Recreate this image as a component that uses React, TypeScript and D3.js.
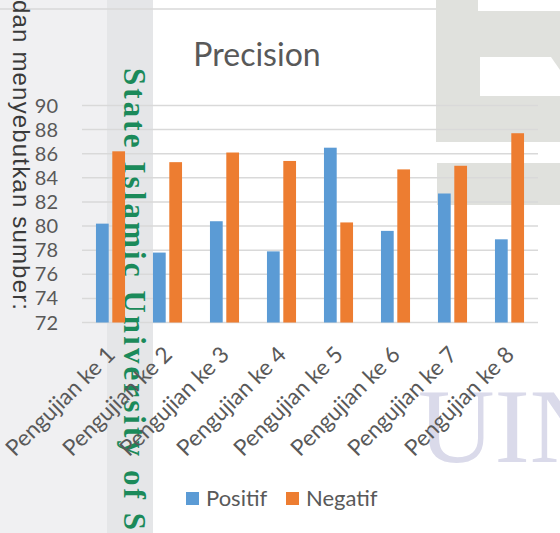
import React from "react";
import * as d3 from "d3";

const categories = [
  "Pengujian ke 1",
  "Pengujian ke 2",
  "Pengujian ke 3",
  "Pengujian ke 4",
  "Pengujian ke 5",
  "Pengujian ke 6",
  "Pengujian ke 7",
  "Pengujian ke 8",
];
const seriesNames = ["Positif", "Negatif"];
const positif = [80.2, 77.8, 80.4, 77.9, 86.5, 79.6, 82.7, 78.9];
const negatif = [86.2, 85.3, 86.1, 85.4, 80.3, 84.7, 85.0, 87.7];
const yTicks = [72, 74, 76, 78, 80, 82, 84, 86, 88, 90];
const colors = ["#5b9bd5", "#ed7d31"];

const W = 560;
const H = 533;
const font = "Lato, 'Open Sans', sans-serif";

export default function App() {
  const x0 = d3
    .scaleBand()
    .domain(categories)
    .range([82, 538])
    .paddingInner(0.49)
    .paddingOuter(0.245);
  const x1 = d3
    .scaleBand()
    .domain(seriesNames)
    .range([0, x0.bandwidth()])
    .paddingInner(0.22);
  const y = d3.scaleLinear().domain([72, 90]).range([322.5, 105.5]);

  const rows = categories.map((c, i) => ({
    cat: c,
    vals: [positif[i], negatif[i]],
  }));

  return (
    <svg
      width={W}
      height={H}
      style={{ position: "absolute", left: 0, top: 0, background: "#fff" }}
    >
      {/* scan background / watermark */}
      <rect x={0} y={0} width={107} height={H} fill="#f0f0f2" />
      <rect x={107} y={0} width={46} height={H} fill="#e5e6e8" />
      <rect x={436} y={0} width={124} height={142} fill="#e0e1dd" />
      <rect x={478} y={0} width={82} height={11} fill="#fff" />
      <polygon points="480,57 551,57 560,70 560,96 480,96" fill="#fff" />
      <rect x={437} y={163} width={123} height={42} fill="#e0e1dd" />
      <line x1={0} x2={436} y1={9} y2={9} stroke="#d9d9d9" strokeWidth={1.5} />
      <text
        x={418}
        y={462}
        fontFamily="'Liberation Serif', serif"
        fontSize={106}
        fill="#dadaea"
      >
        UIN
      </text>
      <text
        transform="translate(13,0) rotate(90)"
        fontFamily="'Liberation Sans', sans-serif"
        fontSize={24}
        fill="#3a3a3a"
        textLength={310}
        lengthAdjust="spacing"
      >
        dan menyebutkan sumber:
      </text>

      {/* gridlines */}
      {yTicks.map((t) => (
        <line
          key={t}
          x1={82}
          x2={538}
          y1={y(t)}
          y2={y(t)}
          stroke="#d9d9d9"
          strokeWidth={1.5}
        />
      ))}

      {/* green vertical watermark */}
      <text
        transform="translate(124,68) rotate(90)"
        fontFamily="'Liberation Serif', serif"
        fontWeight="bold"
        fontSize={31}
        fill="#1b8a5a"
        textLength={462}
        lengthAdjust="spacing"
      >
        State Islamic University of S
      </text>

      {/* bars */}
      {rows.map((r) => (
        <g key={r.cat} transform={`translate(${x0(r.cat)},0)`}>
          {r.vals.map((v, j) => (
            <rect
              key={j}
              x={x1(seriesNames[j])}
              y={y(v)}
              width={x1.bandwidth()}
              height={y(72) - y(v)}
              fill={colors[j]}
            />
          ))}
        </g>
      ))}

      {/* y axis labels */}
      {yTicks.map((t) => (
        <text
          key={t}
          x={58}
          y={y(t)}
          dy="0.35em"
          textAnchor="end"
          fontFamily={font}
          fontSize={20}
          fill="#595959"
        >
          {t}
        </text>
      ))}

      {/* x axis labels */}
      {categories.map((c) => (
        <text
          key={c}
          transform={`translate(${(x0(c) ?? 0) + x0.bandwidth() / 2 + 6},356) rotate(-45)`}
          textAnchor="end"
          fontFamily={font}
          fontSize={22.5}
          fill="#595959"
        >
          {c}
        </text>
      ))}

      {/* title */}
      <text
        x={257}
        y={66}
        textAnchor="middle"
        fontFamily={font}
        fontSize={32}
        fill="#595959"
      >
        Precision
      </text>

      {/* legend */}
      {seriesNames.map((s, i) => (
        <g key={s} transform={`translate(${186 + i * 100},492)`}>
          <rect width={13} height={13} fill={colors[i]} />
          <text x={20} y={14} fontFamily={font} fontSize={22} fill="#595959">
            {s}
          </text>
        </g>
      ))}
    </svg>
  );
}
